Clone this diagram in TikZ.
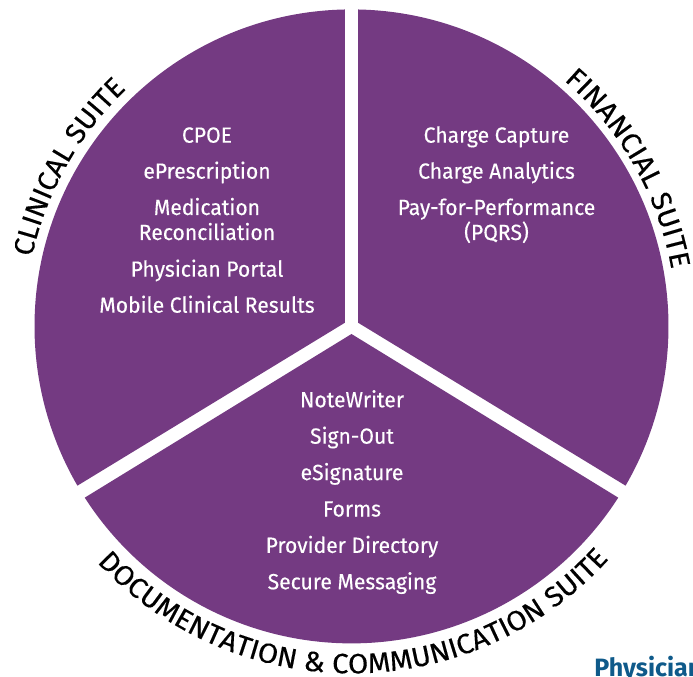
\documentclass[tikz,border=0pt]{standalone}
\usepackage{fontspec}
\setmainfont{Fira Sans}
\usetikzlibrary{decorations.text,calc}
\definecolor{suite}{HTML}{743A82}
\definecolor{logoblue}{HTML}{0F5A8A}
\newfontfamily\itemfam[FakeStretch=0.96,FakeBold=0.3]{Fira Sans}
\newfontfamily\clinfam[FakeStretch=1.03,FakeBold=0.35]{Fira Sans}
\newfontfamily\finfam[FakeStretch=1.06,FakeBold=0.35]{Fira Sans}
\newfontfamily\docfam[FakeStretch=1.045,FakeBold=0.35]{Fira Sans}
\newcommand{\clinfont}{\clinfam\fontsize{21}{21}\selectfont}
\newcommand{\finfont}{\finfam\fontsize{21}{21}\selectfont}
\newcommand{\docfont}{\docfam\fontsize{21}{21}\selectfont}
\tikzset{
  x=0.75pt,y=0.75pt,
  sector/.style={fill=suite,draw=none},
  item/.style={text=white,font=\itemfam\fontsize{16.5}{18.75}\selectfont,align=center,anchor=base,inner sep=0pt},
  curved/.style={postaction={decorate,decoration={text along path,text align=center,
     text={#1}}}}
}
\begin{document}
\begin{tikzpicture}
\useasboundingbox (0,0) rectangle (693,676);
\clip (0,0) rectangle (693,676);
\coordinate (c) at (351.5,349.6);
% sectors
\fill[sector] (344.8,353.2) -- ($(c)+(91.2:317)$) arc[start angle=91.2,end angle=210.16,radius=317] -- cycle;
\fill[sector] (358.2,353.2) -- ($(c)+(88.8:317)$) arc[start angle=88.8,end angle=-30.16,radius=317] -- cycle;
\fill[sector] (351.5,342) -- ($(c)+(212.7:317)$) arc[start angle=212.7,end angle=327.3,radius=317] -- cycle;
% items
\node[item] (a1) at (207,533.3) {CPOE};
\node[item] (a2) at (207,497.3) {ePrescription};
\node[item] (a3) at (207,436) {Medication\\Reconciliation};
\node[item] (a4) at (207,399.3) {Physician Portal};
\node[item] (a5) at (207,363.3) {Mobile Clinical Results};
\node[item] (b1) at (496.5,533.3) {Charge Capture};
\node[item] (b2) at (496.5,497.3) {Charge Analytics};
\node[item] (b3) at (496.5,436) {Pay-for-Performance\\(PQRS)};
\node[item] (c1) at (352,268.7) {NoteWriter};
\node[item] (c2) at (352,232.3) {Sign-Out};
\node[item] (c3) at (352,195.9) {eSignature};
\node[item] (c4) at (352,159.5) {Forms};
\node[item] (c5) at (352,123.1) {Provider Directory};
\node[item] (c6) at (352,86.7) {Secure Messaging};
% curved labels
\path[curved={|\clinfont|CLINICAL SUITE}] ($(c)+(190.65:327)$) arc[start angle=190.65,end angle=110.65,radius=327];
\path[curved={|\finfont|FINANCIAL SUITE}] ($(c)+(69.65:325)$) arc[start angle=69.65,end angle=-10.35,radius=325];
\path[curved={|\docfont|DOCUMENTATION {\&} COMMUNICATION SUITE}] ($(c)+(215.35:347)$) arc[start angle=215.35,end angle=325.35,radius=347];
\node[anchor=base west,inner sep=0pt,text=logoblue,font=\fontsize{18.8}{18.8}\selectfont\bfseries] (logo) at (594,0) {Physician};
\end{tikzpicture}
\end{document}
